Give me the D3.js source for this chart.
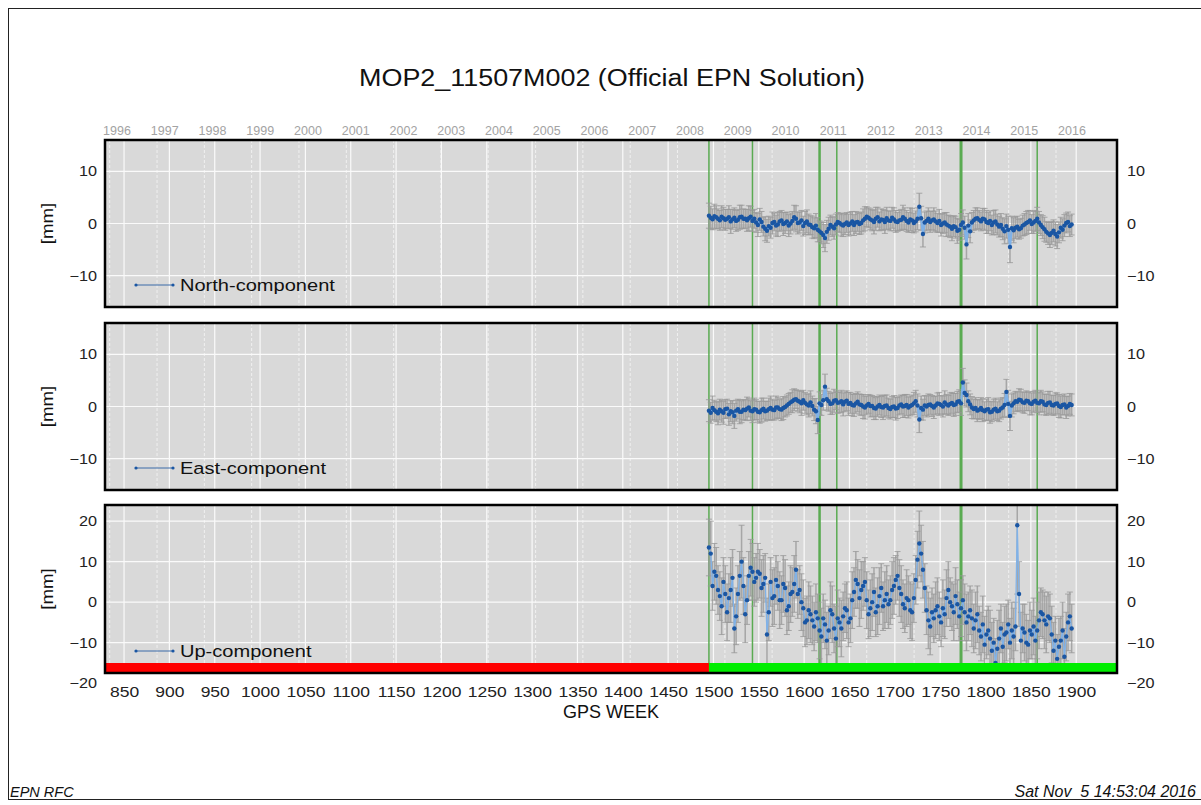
<!DOCTYPE html>
<html>
<head>
<meta charset="utf-8">
<script src="https://cdn.jsdelivr.net/npm/d3@7"></script>
<style>
  body { margin: 0; background: #fff; }
  svg { display: block; font-family: "Liberation Sans", Arial, sans-serif; }
</style>
</head>
<body>
<svg id="chart" width="1201" height="805"></svg>
<script>
// solutions, one every 2 GPS weeks starting at week 1495
const firstWeek = 1495;
const weekStep = 2;

const northVal = [
  1.5, 1.1, 0.8, 1.4, 1.2, 0.9, 0.6, 1.3, 1.0, 0.7,
  0.9, 1.2, 0.4, 0.8, 1.1, 0.5, 0.7, 1.2, 1.3, 0.9,
  0.9, 0.6, 1.0, 1.3, 0.5, 0.9, 0.2, -0.3, 0.8, 0.3,
  -0.6, -1.0, -1.4, -0.5, -0.8, 0.1, 0.3, -0.4, -0.2, 0.4,
  0.6, -0.1, 0.1, 0.4, -0.4, 0.0, 0.5, 1.2, 0.9, 0.1,
  0.2, 0.6, -0.5, 0.1, 0.4, -0.2, -0.3, -0.7, -0.9, -0.4,
  -1.2, -1.5, -1.8, -2.2, -2.8, -1.6, -1.0, -0.3, -0.6, -0.9,
  -0.2, 0.3, 0.1, -0.2, -0.4, -0.1, 0.2, -0.3, 0.0, 0.4,
  -0.3, 0.2, 0.3, -0.1, 0.1, 0.6, 0.9, 1.3, 1.1, 0.8,
  0.6, 0.3, 0.9, 1.2, 0.4, 0.8, 0.7, 0.3, 1.0, 0.6,
  0.5, 1.1, 0.8, 0.4, 0.3, 0.6, 0.7, 1.2, 0.9, 0.5,
  0.2, 0.8, 0.6, 0.1, 0.4, 0.9, 3.2, 1.0, -2.0, 0.2,
  0.5, 0.9, 0.3, 0.6, 0.8, 0.4, 0.1, 0.5, -0.3, 0.0,
  0.2, -0.2, -0.4, -0.6, -1.0, -0.5, -0.7, -1.4, -1.2, -0.3,
  0.2, -0.8, -4.0, -0.4, -1.5, 0.2, 0.6, 0.9, 1.0, 0.7,
  0.4, 0.9, 0.8, 0.3, 0.1, 0.5, -0.3, 0.2, 0.4, -0.2,
  -0.6, -0.3, -1.0, -1.5, -0.5, -1.2, -4.5, -0.9, -1.3, -0.8,
  -0.6, -1.1, -0.9, -0.4, -0.2, 0.1, 0.3, 0.6, -0.1, 0.2,
  0.5, 0.9, 0.2, -0.3, -0.7, -1.1, -1.6, -1.9, -2.2, -1.8,
  -1.4, -2.0, -2.5, -1.7, -0.8, -1.2, -0.4, 0.1, 0.3, -0.5,
  -0.2
];
const northSig = [
  2.4, 2.2, 2.0, 2.3, 2.2, 1.9, 1.9, 2.1, 2.1, 2.0,
  1.8, 2.2, 2.3, 1.9, 1.9, 2.0, 2.0, 2.3, 2.2, 1.9,
  1.8, 2.1, 2.4, 2.0, 2.0, 1.8, 1.9, 2.2, 2.1, 2.0,
  1.8, 2.3, 2.2, 1.9, 2.0, 2.1, 1.7, 2.0, 2.3, 1.9,
  1.9, 2.2, 2.0, 1.8, 2.1, 2.0, 1.8, 2.3, 2.5, 2.1,
  2.0, 1.9, 1.9, 2.2, 2.2, 2.0, 1.8, 2.1, 2.0, 2.3,
  2.3, 2.0, 2.1, 2.4, 2.6, 2.2, 2.2, 1.9, 1.9, 2.1,
  2.0, 1.8, 1.8, 2.2, 2.1, 2.0, 1.9, 2.1, 2.2, 1.9,
  2.0, 2.1, 1.8, 2.0, 2.1, 2.2, 2.3, 1.9, 1.9, 2.0,
  2.0, 2.3, 2.2, 1.9, 1.8, 2.0, 2.0, 2.2, 2.1, 1.8,
  1.9, 2.0, 2.2, 2.1, 1.8, 1.9, 2.0, 2.3, 2.1, 2.0,
  1.9, 2.2, 2.3, 1.9, 2.0, 2.1, 2.6, 2.3, 2.5, 2.0,
  1.9, 2.1, 2.0, 1.8, 2.2, 2.0, 1.8, 2.2, 2.1, 1.9,
  1.9, 2.3, 2.0, 2.1, 2.3, 2.0, 2.1, 2.4, 2.0, 2.2,
  2.4, 2.2, 2.8, 2.3, 2.2, 1.9, 1.9, 2.1, 2.0, 1.8,
  1.8, 2.0, 2.1, 2.2, 2.0, 1.9, 1.9, 2.3, 2.2, 2.0,
  2.0, 2.2, 2.1, 2.4, 2.3, 2.6, 3.0, 2.3, 2.4, 2.1,
  2.0, 1.9, 1.9, 2.0, 2.1, 2.2, 2.2, 1.9, 1.8, 2.1,
  2.0, 2.2, 2.1, 2.0, 2.2, 2.3, 2.0, 2.1, 2.4, 2.2,
  2.1, 2.3, 2.3, 2.0, 2.0, 2.1, 2.1, 1.9, 1.9, 2.0,
  2.0
];

const eastVal = [
  -0.8, -1.2, -0.3, -0.7, -1.0, -1.3, -0.6, -0.9, -1.2, -0.5,
  -0.4, -1.5, -0.9, -1.1, -1.8, -0.8, -0.5, -1.0, -1.0, -0.6,
  -0.7, -0.4, -0.2, -0.8, -0.9, -0.5, -0.6, -1.0, -1.1, -0.7,
  -0.4, -0.9, -0.8, -0.5, -0.3, -0.6, -0.7, -0.2, -0.2, -0.5,
  -0.6, -0.3, -0.1, 0.2, 0.5, 0.8, 1.0, 1.3, 1.4, 1.1,
  0.9, 0.6, 1.2, 0.7, 0.4, 0.2, 0.8, 0.1, -0.6, -0.9,
  -2.6, 0.6, 0.3, 1.2, 3.8, 1.4, 1.0, 0.5, 0.6, 1.1,
  1.2, 0.7, 0.8, 1.0, 0.4, 0.9, 1.1, 0.5, 0.7, 0.3,
  0.2, 0.6, 0.9, 0.4, 0.3, 0.0, -0.2, 0.2, 0.5, 0.1,
  0.1, -0.3, -0.4, 0.0, 0.3, -0.1, -0.2, 0.1, 0.2, -0.3,
  -0.5, -0.1, 0.0, -0.4, -0.3, 0.2, 0.4, 0.0, 0.1, 0.3,
  -0.2, 0.1, 0.3, 0.6, 1.0, 0.2, -2.5, -0.3, -0.6, 0.2,
  0.0, 0.3, 0.4, 0.1, -0.2, 0.2, 0.6, 0.5, 0.3, 0.0,
  0.8, 0.4, 0.2, 0.5, 0.7, 0.3, 0.4, 0.9, 1.0, 0.6,
  4.6, 2.6, 2.2, 1.0, 0.4, -0.2, -0.5, -0.3, -0.8, -0.6,
  -0.3, -0.7, -0.9, -0.6, -0.5, -1.1, -1.0, -0.6, -0.4, -0.9,
  -0.8, -0.4, -0.2, 0.3, 2.8, 0.5, -1.8, 0.2, 0.6, 1.0,
  0.9, 1.3, 1.2, 0.8, 0.7, 1.1, 1.0, 0.6, 0.5, 0.9,
  1.1, 0.7, 0.6, 1.0, 0.9, 0.4, 0.3, 0.7, 0.8, 0.3,
  0.2, 0.5, 0.6, 0.1, -0.1, 0.3, 0.4, -0.2, 0.1, 0.5,
  0.3
];
const eastSig = [
  2.1, 2.0, 2.3, 1.9, 1.9, 2.2, 2.0, 2.1, 2.2, 1.8,
  1.8, 2.1, 2.0, 2.2, 2.4, 2.0, 1.9, 2.3, 2.1, 1.9,
  2.0, 2.2, 1.8, 1.9, 2.2, 2.1, 1.9, 2.0, 2.1, 2.3,
  2.0, 1.9, 1.8, 2.1, 2.3, 2.0, 1.9, 2.2, 2.0, 1.8,
  2.1, 2.2, 1.9, 2.0, 2.0, 1.9, 2.2, 2.1, 1.8, 2.0,
  2.1, 2.3, 1.9, 2.0, 2.0, 2.2, 2.2, 1.9, 2.1, 2.4,
  2.6, 2.2, 2.0, 1.9, 2.4, 2.1, 1.9, 2.0, 2.1, 2.2,
  1.8, 2.0, 2.0, 2.1, 2.2, 1.9, 1.9, 2.2, 2.0, 2.1,
  2.1, 1.9, 1.9, 2.0, 2.0, 2.3, 2.2, 1.8, 1.8, 2.1,
  2.0, 2.2, 2.1, 1.9, 1.9, 2.0, 2.3, 2.1, 2.0, 1.9,
  1.9, 2.0, 2.1, 2.2, 2.0, 1.8, 1.8, 2.1, 2.2, 2.0,
  2.0, 1.9, 1.9, 2.1, 2.1, 2.2, 2.5, 2.3, 2.0, 1.9,
  2.0, 2.1, 1.9, 2.0, 2.1, 1.8, 2.0, 2.2, 1.8, 2.0,
  2.2, 1.9, 1.9, 2.1, 2.0, 2.2, 2.1, 2.0, 2.2, 2.3,
  2.7, 2.5, 2.3, 2.0, 2.0, 2.1, 1.9, 2.0, 2.1, 1.9,
  2.0, 2.2, 1.8, 2.0, 2.2, 2.1, 1.9, 2.0, 2.0, 1.8,
  2.1, 2.0, 1.9, 2.2, 2.4, 2.6, 2.8, 2.2, 2.0, 1.9,
  1.9, 2.1, 2.1, 2.0, 2.0, 1.9, 1.8, 2.2, 2.1, 2.0,
  2.0, 1.9, 2.2, 2.1, 1.9, 2.0, 2.0, 2.2, 2.1, 1.9,
  1.9, 2.1, 2.0, 2.2, 2.1, 1.9, 2.0, 2.1, 1.9, 2.0,
  2.1
];

const upVal = [
  13.5, 12.0, 4.0, 7.5, 6.5, 3.0, 1.5, -1.0, 5.0, 2.0,
  -2.5, 1.0, 3.0, 6.0, -6.5, -3.5, 2.0, 6.5, 10.0, 4.0,
  -3.0, 0.5, 6.5, 8.5, 7.5, 5.0, 6.0, 7.5, 7.0, 3.5,
  4.5, 6.0, -8.0, -2.5, 5.0, 1.0, 1.5, 5.5, 4.0, 0.5,
  0.5, 4.5, 3.5, -2.0, -1.0, 2.0, 2.5, 4.5, 8.0, 2.0,
  3.0, 0.0, -1.5, -5.0, -4.5, -2.0, -3.0, -4.5, -6.0, -2.5,
  -4.0, -7.0, -8.5, -4.0, -5.5, -9.5, -7.0, -2.0, -3.0, -6.5,
  -9.0, -4.0, -5.0, -6.5, -3.5, -1.5, -2.0, -5.0, -4.0, 0.5,
  2.5, 5.5, 4.5, 1.0, 3.0, 4.0, 5.0, 0.5, -3.0, -1.5,
  0.0, 2.5, -2.5, -1.0, 1.5, 3.5, -1.0, 0.5, 2.0, -0.5,
  0.5, 3.0, 4.0, 5.5, 6.5, 3.5, 2.0, -0.5, -1.5, 1.0,
  0.5, -2.0, -2.5, 1.0, 5.5, 10.5, 14.5, 12.0, 8.0, 3.5,
  -2.0, -4.5, -6.0, -2.5, -4.0, -2.0, -1.0, -3.5, -5.0, -1.5,
  -3.0, 1.0, 3.0, 0.0, -1.0, -2.5, 1.5, -0.5, -3.5, -1.5,
  0.5, -2.5, -5.0, -3.5, -2.0, -4.0, -6.5, -4.5, -3.0, -7.0,
  -8.5, -5.5, -10.5, -8.0, -7.0, -9.0, -12.0, -10.0, -15.0, -11.5,
  -9.0, -6.5, -11.0, -8.0, -7.5, -5.5, -10.0, -7.0, -8.5, -6.0,
  19.0, 2.0, -9.5, -6.5, -7.5, -10.0, -10.5, -7.0, -8.0, -6.0,
  -9.5, -7.0, -4.5, -2.5, -3.0, -4.5, -5.5, -3.5, -4.0, -8.0,
  -12.0, -9.5, -14.0, -11.0, -9.5, -7.0, -13.5, -8.5, -5.0, -3.5,
  -6.5
];
const upSig = [
  7, 8, 6, 7, 7, 6, 6, 7, 6, 7,
  7, 6, 8, 7, 6, 7, 7, 6, 9, 7,
  7, 6, 6, 7, 7, 6, 6, 7, 6, 7,
  7, 6, 9, 7, 6, 7, 7, 6, 6, 7,
  6, 7, 7, 6, 6, 7, 6, 7, 7, 6,
  6, 7, 7, 6, 6, 7, 7, 6, 6, 7,
  6, 7, 7, 6, 6, 7, 6, 7, 7, 6,
  8, 7, 6, 7, 6, 6, 7, 6, 6, 7,
  6, 7, 6, 7, 7, 6, 6, 7, 6, 7,
  7, 6, 6, 7, 7, 6, 6, 7, 7, 6,
  6, 7, 7, 6, 6, 7, 7, 6, 6, 7,
  6, 7, 7, 6, 6, 7, 8, 7, 7, 6,
  6, 7, 7, 6, 6, 7, 7, 6, 6, 7,
  6, 7, 7, 6, 6, 7, 7, 6, 6, 7,
  6, 7, 7, 6, 6, 7, 6, 7, 7, 6,
  6, 7, 7, 6, 6, 7, 7, 6, 6, 7,
  7, 6, 6, 7, 7, 6, 6, 7, 7, 6,
  17, 8, 7, 6, 7, 7, 6, 7, 6, 7,
  6, 7, 7, 6, 6, 7, 7, 6, 6, 7,
  7, 6, 6, 7, 6, 7, 7, 6, 7, 6,
  6
];

// discontinuity epochs (GPS week) and station status change
const changeWeeks = [1495, 1543, 1617, 1636, 1773, 1857];
const changeWidth = [1.5, 1.5, 2.5, 1.5, 3, 1.5];
const statusChangeWeek = 1495;

const weekTicks = [850, 900, 950, 1000, 1050, 1100, 1150, 1200, 1250, 1300, 1350,
                   1400, 1450, 1500, 1550, 1600, 1650, 1700, 1750, 1800, 1850, 1900];
const yearLabels = [1996, 1997, 1998, 1999, 2000, 2001, 2002, 2003, 2004, 2005, 2006,
                    2007, 2008, 2009, 2010, 2011, 2012, 2013, 2014, 2015, 2016];

const svg = d3.select('#chart');
const W = 1201, H = 805;
const left = 105, right = 1117;
const FONT = '"Liberation Sans", Arial, sans-serif';

const x = d3.scaleLinear().domain([829, 1945]).range([left, right]);
const yearX = d3.scaleLinear().domain([1996, 2016]).range([117, 1072]);
const gpsWeekOf = yr => (Date.UTC(yr, 0, 1) - Date.UTC(1980, 0, 6)) / (7 * 86400000);

// the original output is a bit wider than tall, so stretch text horizontally
function widen(sel, sx) {
  sel.each(function () {
    const t = d3.select(this);
    const x0 = +t.attr('x') || 0;
    t.attr('x', x0 / sx).attr('transform', (t.attr('transform') || '') + ` scale(${sx},1)`);
  });
}

svg.append('rect').attr('x', 8.5).attr('y', 8.5).attr('width', W).attr('height', H - 14)
  .attr('fill', 'none').attr('stroke', '#222').attr('stroke-width', 1);

const title = svg.append('text').attr('x', 612).attr('y', 86).attr('text-anchor', 'middle')
  .style('font-size', '23px').attr('fill', '#111')
  .text('MOP2_11507M002 (Official EPN Solution)');
widen(title, 1.17);

svg.selectAll('.yr').data(yearLabels).enter().append('text')
  .attr('x', d => yearX(d)).attr('y', 135)
  .attr('text-anchor', 'middle').style('font-size', '12.5px').attr('fill', '#a3a3a3')
  .text(d => d);

const panels = [
  { name: 'North-component', val: northVal, sig: northSig, top: 140, bottom: 307, domain: [-16, 16], ticks: [-10, 0, 10], lw: 2.2 },
  { name: 'East-component',  val: eastVal,  sig: eastSig,  top: 323, bottom: 490, domain: [-16, 16], ticks: [-10, 0, 10], lw: 2.2 },
  { name: 'Up-component',    val: upVal,    sig: upSig,    top: 505, bottom: 673, domain: [-17.5, 24], ticks: [-20, -10, 0, 10, 20], lw: 1.3 }
];

panels.forEach((p, k) => {
  const y = d3.scaleLinear().domain(p.domain).range([p.bottom, p.top]);
  const g = svg.append('g');
  const clipId = 'clip' + k;
  svg.append('clipPath').attr('id', clipId).append('rect')
    .attr('x', left).attr('y', p.top).attr('width', right - left).attr('height', p.bottom - p.top);
  const inner = g.append('g').attr('clip-path', `url(#${clipId})`);

  inner.append('rect').attr('x', left).attr('y', p.top)
    .attr('width', right - left).attr('height', p.bottom - p.top).attr('fill', '#d9d9d9');

  // year lines
  inner.selectAll('.yl').data(yearLabels).enter().append('line')
    .attr('x1', d => x(gpsWeekOf(d))).attr('x2', d => x(gpsWeekOf(d)))
    .attr('y1', p.top).attr('y2', p.bottom)
    .attr('stroke', '#f0f0f0').attr('stroke-width', 1).attr('stroke-dasharray', '3,2');
  // week grid
  inner.selectAll('.wl').data(weekTicks).enter().append('line')
    .attr('x1', d => x(d)).attr('x2', d => x(d))
    .attr('y1', p.top).attr('y2', p.bottom)
    .attr('stroke', '#fafafa').attr('stroke-width', 1.2);
  inner.selectAll('.hl').data(p.ticks).enter().append('line')
    .attr('x1', left).attr('x2', right)
    .attr('y1', d => y(d)).attr('y2', d => y(d))
    .attr('stroke', '#fafafa').attr('stroke-width', 1.2);

  // discontinuities
  inner.selectAll('.cw').data(changeWeeks).enter().append('line')
    .attr('x1', d => x(d)).attr('x2', d => x(d))
    .attr('y1', p.top).attr('y2', p.bottom)
    .attr('stroke', '#5aab52').attr('stroke-width', (d, i) => changeWidth[i]);

  const pts = p.val.map((v, i) => ({ w: firstWeek + i * weekStep, v: v, s: p.sig[i] }));

  // error bars
  const eb = inner.append('g').attr('stroke', '#999').attr('stroke-opacity', 0.8);
  eb.selectAll('line.e').data(pts).enter().append('line')
    .attr('stroke-width', 1.5)
    .attr('x1', d => x(d.w)).attr('x2', d => x(d.w))
    .attr('y1', d => y(d.v - d.s)).attr('y2', d => y(d.v + d.s));
  eb.selectAll('line.c1').data(pts).enter().append('line')
    .attr('stroke-width', 1)
    .attr('x1', d => x(d.w) - 3).attr('x2', d => x(d.w) + 3)
    .attr('y1', d => y(d.v + d.s)).attr('y2', d => y(d.v + d.s));
  eb.selectAll('line.c2').data(pts).enter().append('line')
    .attr('stroke-width', 1)
    .attr('x1', d => x(d.w) - 3).attr('x2', d => x(d.w) + 3)
    .attr('y1', d => y(d.v - d.s)).attr('y2', d => y(d.v - d.s));

  inner.append('path').datum(pts)
    .attr('d', d3.line().x(d => x(d.w)).y(d => y(d.v)))
    .attr('fill', 'none').attr('stroke', '#80b2e8').attr('stroke-width', p.lw);
  inner.selectAll('circle.pt').data(pts).enter().append('circle')
    .attr('cx', d => x(d.w)).attr('cy', d => y(d.v)).attr('r', 2.2)
    .attr('fill', '#1a56a3');

  // station status bar in the last panel
  if (k === panels.length - 1) {
    const dom = x.domain();
    inner.append('rect').attr('x', x(dom[0])).attr('y', p.bottom - 10)
      .attr('width', x(statusChangeWeek) - x(dom[0])).attr('height', 10).attr('fill', '#ff0000');
    inner.append('rect').attr('x', x(statusChangeWeek)).attr('y', p.bottom - 10)
      .attr('width', x(dom[1]) - x(statusChangeWeek)).attr('height', 10).attr('fill', '#00ee00');
  }

  // legend
  const ly = p.bottom - 22;
  g.append('line').attr('x1', 136).attr('x2', 173).attr('y1', ly).attr('y2', ly)
    .attr('stroke', '#3a6aa8').attr('stroke-width', 1);
  g.selectAll('circle.lg').data([136, 173]).enter().append('circle')
    .attr('cx', d => d).attr('cy', ly).attr('r', 1.6).attr('fill', '#1a56a3');
  const lt = g.append('text').attr('x', 180).attr('y', ly + 6).style('font-size', '17px')
    .attr('fill', '#111').text(p.name);
  widen(lt, 1.18);

  g.append('rect').attr('x', left).attr('y', p.top)
    .attr('width', right - left).attr('height', p.bottom - p.top)
    .attr('fill', 'none').attr('stroke', '#000').attr('stroke-width', 2.5);

  const la = g.append('g').attr('transform', `translate(${left},0)`)
    .call(d3.axisLeft(y).tickValues(p.ticks).tickSize(0).tickPadding(8));
  const ra = g.append('g').attr('transform', `translate(${right},0)`)
    .call(d3.axisRight(y).tickValues(p.ticks).tickSize(0).tickPadding(10));
  [la, ra].forEach(a => {
    a.select('.domain').remove();
    const t = a.selectAll('text').style('font-size', '14.5px').attr('fill', '#222')
      .style('font-family', FONT);
    widen(t, 1.12);
  });

  const mm = g.append('text').attr('transform', `translate(53,${(p.top + p.bottom) / 2}) rotate(-90)`)
    .attr('text-anchor', 'middle').style('font-size', '17px').attr('fill', '#111').text('[mm]');
  widen(mm, 1.1);
});

const xa = svg.append('g').attr('transform', 'translate(0,673)')
  .call(d3.axisBottom(x).tickValues(weekTicks).tickSize(0).tickPadding(13).tickFormat(d3.format('d')));
xa.select('.domain').remove();
widen(xa.selectAll('text').style('font-size', '15.5px').attr('fill', '#222')
  .style('font-family', FONT), 1.13);

svg.append('text').attr('x', 611).attr('y', 718).attr('text-anchor', 'middle')
  .style('font-size', '18px').attr('fill', '#111').text('GPS WEEK');

svg.append('text').attr('x', 10).attr('y', 797).style('font-size', '14.5px')
  .style('font-style', 'italic').attr('fill', '#111').text('EPN RFC');
svg.append('text').attr('x', 1196).attr('y', 797).attr('text-anchor', 'end')
  .style('font-size', '16px').style('font-style', 'italic').attr('fill', '#111')
  .style('white-space', 'pre').text('Sat Nov  5 14:53:04 2016');
</script>
</body>
</html>
